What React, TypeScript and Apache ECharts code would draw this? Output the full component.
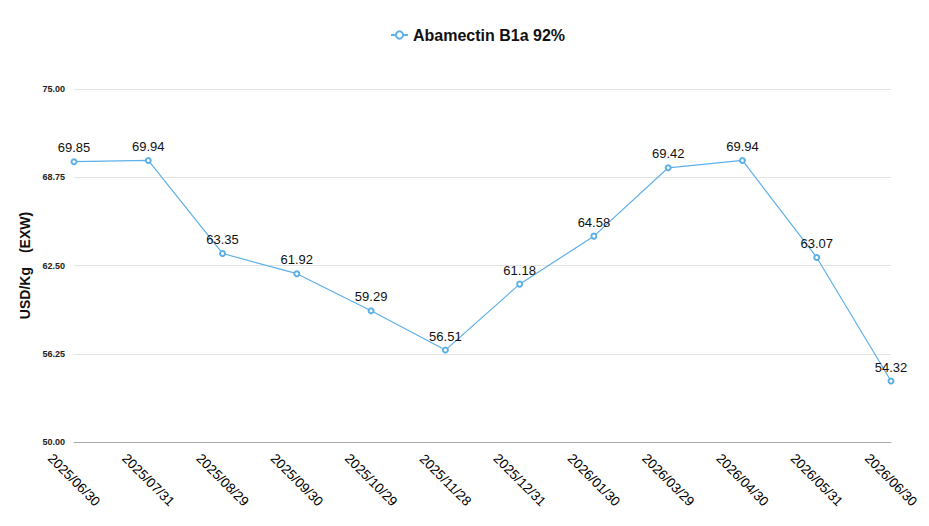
import React, { useEffect, useRef } from "react";
import * as echarts from "echarts";

const seriesName = "Abamectin B1a 92%";
const dates = [
  "2025/06/30", "2025/07/31", "2025/08/29", "2025/09/30", "2025/10/29", "2025/11/28",
  "2025/12/31", "2026/01/30", "2026/03/29", "2026/04/30", "2026/05/31", "2026/06/30",
];
const prices = [69.85, 69.94, 63.35, 61.92, 59.29, 56.51, 61.18, 64.58, 69.42, 69.94, 63.07, 54.32];
const yMin = 50;
const yMax = 75;
const yStep = 6.25;
const yAxisTitle = "USD/Kg\u3000(EXW)";

const FONT = "Helvetica, Arial, 'Liberation Sans', sans-serif";
const LINE_COLOR = "#5eb0e8";

export default function App() {
  const ref = useRef<HTMLDivElement>(null);

  useEffect(() => {
    if (!ref.current) return;
    const chart = echarts.init(ref.current, undefined, { renderer: "svg" });
    chart.setOption({
      animation: false,
      backgroundColor: "#ffffff",
      textStyle: { fontFamily: FONT },
      legend: {
        top: 22,
        left: 385,
        data: [seriesName],
        itemWidth: 17,
        itemHeight: 9,
        itemGap: 8,
        textStyle: { fontFamily: FONT, fontSize: 16, fontWeight: "bold", color: "#111" },
      },
      grid: { left: 74, right: 38, top: 89, bottom: 84, containLabel: false },
      xAxis: {
        type: "category",
        data: dates,
        boundaryGap: false,
        axisLine: { show: true, lineStyle: { color: "#aaaaaa", width: 1 } },
        axisTick: { show: false },
        splitLine: { show: false },
        axisLabel: {
          interval: 0,
          rotate: -45,
          align: "center",
          verticalAlign: "middle",
          margin: 38,
          fontFamily: FONT,
          fontSize: 13.5,
          color: "#000",
        },
      },
      yAxis: {
        type: "value",
        min: yMin,
        max: yMax,
        interval: yStep,
        name: yAxisTitle,
        nameLocation: "middle",
        nameGap: 39,
        nameTextStyle: { fontFamily: FONT, fontSize: 14, fontWeight: "bold", color: "#111" },
        axisLine: { show: false },
        axisTick: { show: false },
        axisLabel: {
          margin: 9,
          fontFamily: FONT,
          fontSize: 9,
          fontWeight: "bold",
          color: "#222",
          formatter: (v: number) => v.toFixed(2),
        },
        splitLine: { show: true, lineStyle: { color: "#e4e4e4", width: 1 } },
      },
      series: [
        {
          name: seriesName,
          type: "line",
          data: prices,
          symbol: "emptyCircle",
          symbolSize: 5,
          itemStyle: { color: LINE_COLOR, borderWidth: 1 },
          lineStyle: { color: LINE_COLOR, width: 1.2 },
          label: {
            show: true,
            position: "top",
            distance: 4,
            fontFamily: FONT,
            fontSize: 13,
            color: "#111",
            formatter: (p: any) => Number(p.value).toFixed(2),
          },
        },
      ],
    });
    return () => chart.dispose();
  }, []);

  return <div ref={ref} style={{ width: 929, height: 526, position: "absolute", left: 0, top: 0 }} />;
}
